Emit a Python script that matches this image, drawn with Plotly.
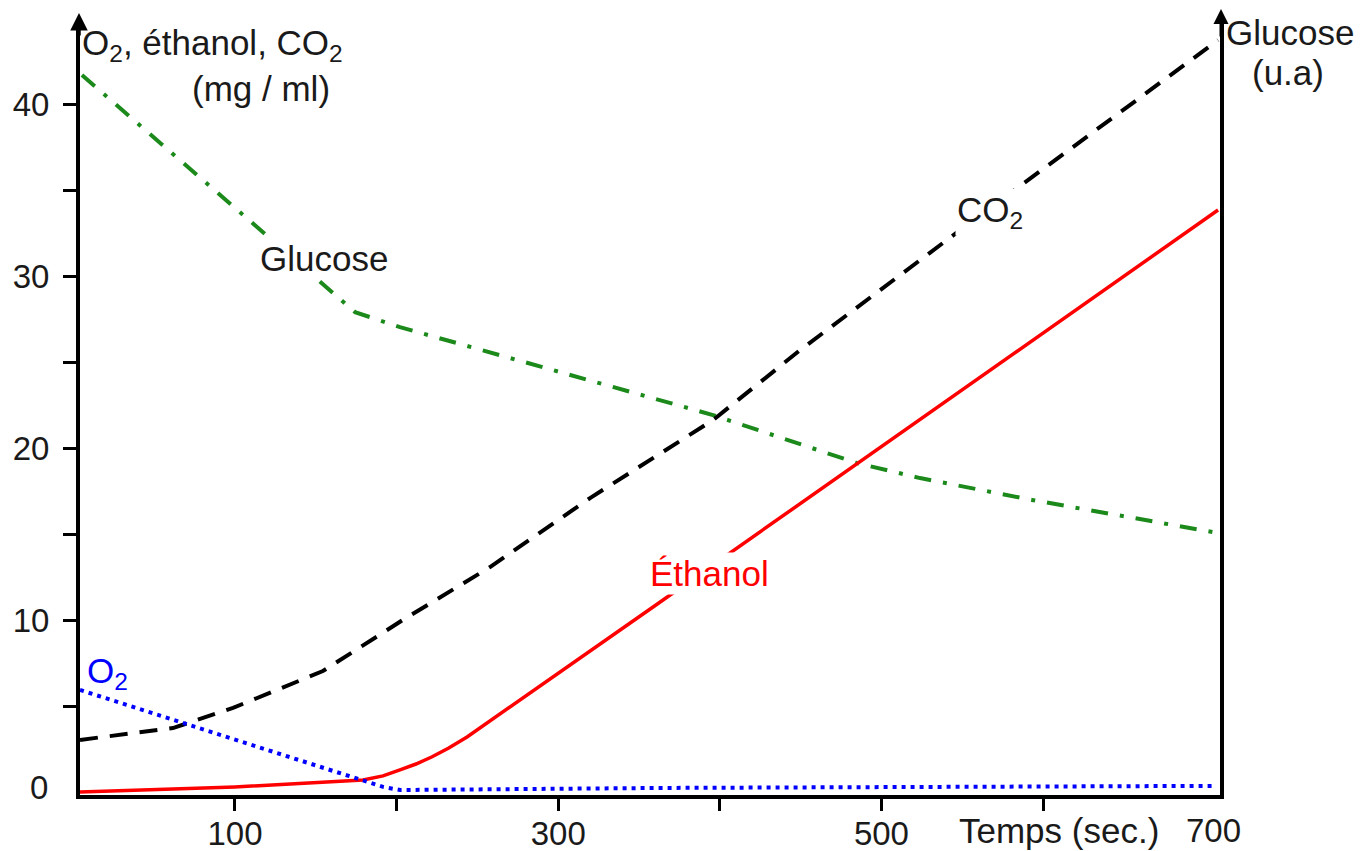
import plotly.graph_objects as go

# ---- data ----
o2_t = [4.1, 191.6, 202.1, 363.0, 704.6]
o2_v = [5.98, 0.35, 0.17, 0.29, 0.41]

ethanol_t = [4.1, 99.9, 179.2, 191.6, 202.1, 212.0, 222.0, 232.0, 243.6, 264.0, 358.7, 708.3]
ethanol_v = [0.06, 0.35, 0.75, 0.99, 1.34, 1.68, 2.10, 2.60, 3.25, 4.59, 10.8, 33.86]

co2_t = [4.1, 61.6, 98.8, 154.4, 203.9, 257.8, 319.7, 395.8, 449.6, 548.6, 708.3]
co2_v = [3.08, 3.77, 4.94, 7.08, 10.05, 13.12, 17.13, 21.66, 25.72, 32.69, 43.73]

glucose_t = [5.3, 165.0, 174.3, 202.1, 395.8, 484.9, 523.9, 593.2, 708.3]
glucose_v = [41.7, 28.63, 27.93, 27.06, 21.95, 19.16, 18.29, 17.02, 15.1]

x_tickvals = [100, 200, 300, 400, 500, 600]
x_ticktext = ["100", "", "300", "", "500", ""]
y_tickvals = [5, 10, 15, 20, 25, 30, 35, 40]
y_ticktext = ["", "10", "", "20", "", "30", "", "40"]

FONT = "Liberation Sans, Arial, sans-serif"
TXT = "#1a1a1a"
FS_TICK = 33
FS_TXT = 35

# page has an 8px body margin: the figure is sized so it fills the window exactly
OFF = 8
W, H = 1368 - OFF, 851 - OFF
L, R, T, B = 80 - OFF, W - (1220 - OFF), 20 - OFF, H - (795 - OFF)
PW, PH = W - L - R, H - T - B


def px_x(px):
    return (px - OFF - L) / PW


def px_y(py):
    return (H - B - (py - OFF)) / PH


fig = go.Figure()
fig.add_trace(go.Scatter(x=glucose_t, y=glucose_v, mode="lines", name="Glucose",
                         line=dict(color="#1b8a1b", width=4, dash="17px,12px,4px,12px")))
fig.add_trace(go.Scatter(x=co2_t, y=co2_v, mode="lines", name="CO2",
                         line=dict(color="black", width=4, dash="18px,12px")))
fig.add_trace(go.Scatter(x=ethanol_t, y=ethanol_v, mode="lines", name="Éthanol",
                         line=dict(color="#ff0000", width=3.5)))
fig.add_trace(go.Scatter(x=o2_t, y=o2_v, mode="lines", name="O2",
                         line=dict(color="#0000ff", width=4, dash="4px,5px")))

ann = []


def txt(text, x, y, xanchor="left", color=TXT, bg=None, size=FS_TXT):
    d = dict(text=text, x=x, y=y, xref="paper", yref="paper", xanchor=xanchor, yanchor="middle",
             showarrow=False, font=dict(family=FONT, size=size, color=color))
    if bg:
        d["bgcolor"] = bg
    ann.append(d)


txt("O<sub>2</sub>, éthanol, CO<sub>2</sub>", px_x(80), px_y(45))
txt("(mg / ml)", px_x(190), px_y(88))
txt("Glucose", px_x(1224), px_y(32))
txt("(u.a)", px_x(1250), px_y(73))
txt("Glucose", px_x(258), px_y(258), bg="white")
txt("CO<sub>2</sub>", px_x(955), px_y(212), bg="white")
txt("Éthanol", px_x(648), px_y(573), color="#ff0000", bg="white")
txt("O<sub>2</sub>", px_x(85), px_y(673), color="#0000ff")
txt("Temps (sec.)", px_x(1059), px_y(830), xanchor="center")
txt("700", px_x(1213), px_y(830), xanchor="center", size=FS_TICK)
txt("0", px_x(50), px_y(787), xanchor="right", size=FS_TICK)

# axis arrowheads
ann.append(dict(x=px_x(79), y=px_y(13), xref="paper", yref="paper", ax=0, ay=24, text="",
                showarrow=True, arrowhead=2, arrowsize=1, arrowwidth=3.5, arrowcolor="black"))
ann.append(dict(x=px_x(1221), y=px_y(8), xref="paper", yref="paper", ax=0, ay=30, text="",
                showarrow=True, arrowhead=2, arrowsize=1, arrowwidth=3, arrowcolor="black"))

fig.update_layout(
    width=W, height=H,
    margin=dict(l=L, r=R, t=T, b=B, autoexpand=False),
    paper_bgcolor="white", plot_bgcolor="white",
    showlegend=False,
    annotations=ann,
    font=dict(family=FONT, size=FS_TICK, color=TXT),
)
fig.update_xaxes(range=[4.1, 709.5], showgrid=False, zeroline=False, automargin=False,
                 showline=True, linewidth=4, linecolor="black",
                 tickvals=x_tickvals, ticktext=x_ticktext,
                 ticks="outside", ticklen=12, tickwidth=3, tickcolor="black",
                 tickfont=dict(family=FONT, size=FS_TICK, color=TXT), ticklabelstandoff=-6)
fig.update_yaxes(range=[-0.12, 44.9], showgrid=False, zeroline=False, automargin=False,
                 showline=True, linewidth=4, linecolor="black", mirror=True,
                 tickvals=y_tickvals, ticktext=y_ticktext,
                 ticks="outside", ticklen=13, tickwidth=3, tickcolor="black",
                 tickfont=dict(family=FONT, size=FS_TICK, color=TXT), ticklabelstandoff=7)

fig.write_html("out.html")
